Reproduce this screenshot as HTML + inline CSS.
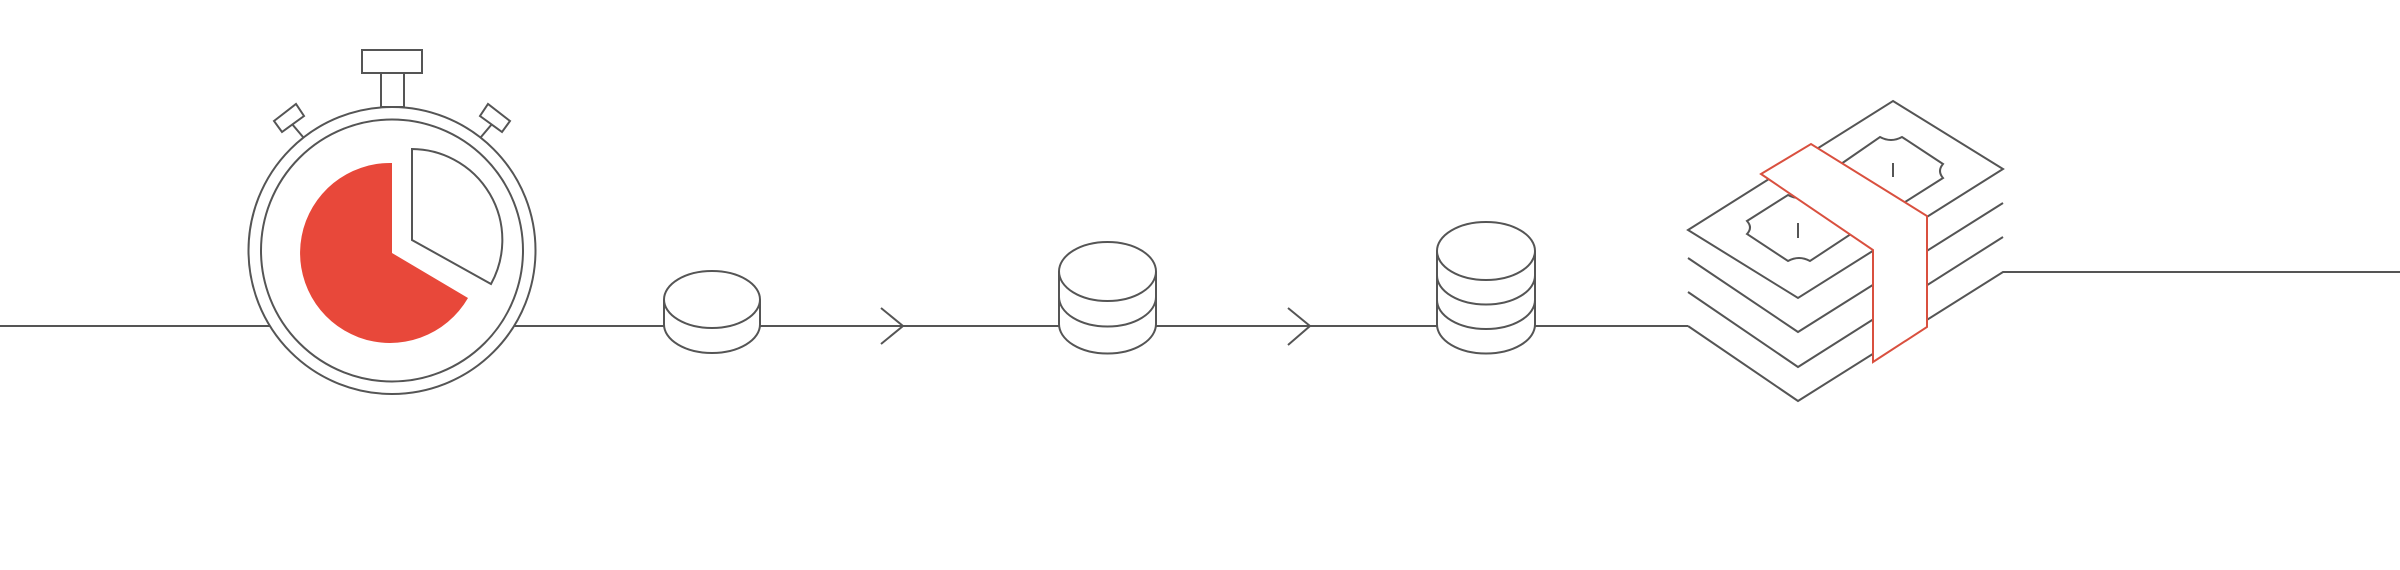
<!DOCTYPE html>
<html><head><meta charset="utf-8"><style>
html,body{margin:0;padding:0;background:#fff;}
svg{display:block;}
</style></head><body>
<svg width="2400" height="570" viewBox="0 0 2400 570" xmlns="http://www.w3.org/2000/svg">
<g fill="none" stroke="#555" stroke-width="2" stroke-linejoin="miter">
  <line x1="0" y1="326" x2="272" y2="326"/>
  <line x1="512" y1="326" x2="664" y2="326"/>
  <line x1="760" y1="326" x2="1059" y2="326"/>
  <line x1="1156" y1="326" x2="1437" y2="326"/>
  <line x1="1535" y1="326" x2="1688" y2="326"/>
  <polyline points="881,308 903,326 881,344"/>
  <polyline points="1288,308 1310,326 1288,345"/>

  <rect x="362" y="50" width="60" height="23"/>
  <rect x="381" y="73" width="23" height="34"/>
  <polygon points="274,121 296,104 304,116 282,132"/>
  <line x1="292" y1="124" x2="303" y2="137"/>
  <polygon points="510,121 488,104 480,116 502,132"/>
  <line x1="492" y1="124" x2="481" y2="137"/>
  <circle cx="392" cy="250.5" r="143.5" fill="#fff"/>
  <circle cx="392" cy="250.5" r="131"/>
  <path d="M412,149 A91,91 0 0 1 491,284 L412,240 Z"/>
</g>
<path d="M392,163 A90,90 0 1 0 468,298 L392,253 Z" fill="#e8483a"/>

<g fill="#fff" stroke="#555" stroke-width="2">
  <path d="M664,299.5 V324.5 A48,28.5 0 0 0 760,324.5 V299.5"/>
  <ellipse cx="712" cy="299.5" rx="48" ry="28.5"/>
  <path d="M1059,271.5 V324 A48.5,29.5 0 0 0 1156,324 V271.5"/>
  <path d="M1059,297 A48.5,29.5 0 0 0 1156,297" fill="none"/>
  <ellipse cx="1107.5" cy="271.5" rx="48.5" ry="29.5"/>
  <path d="M1437,251 V324.5 A49,29 0 0 0 1535,324.5 V251"/>
  <path d="M1437,300 A49,29 0 0 0 1535,300" fill="none"/>
  <path d="M1437,275.5 A49,29 0 0 0 1535,275.5" fill="none"/>
  <ellipse cx="1486" cy="251" rx="49" ry="29"/>
</g>

<g fill="none" stroke="#555" stroke-width="2" stroke-linejoin="miter">
  <polyline points="1688,326 1798,401 2003,272 2400,272"/>
  <polyline points="1688,292 1798,367 2003,237"/>
  <polyline points="1688,258 1798,332 2003,203"/>
  <polygon points="1893,101 2003,169 1798,298 1688,230" fill="#fff"/>
  <path d="M1747,221 Q1753,227.5 1747,234 L1788,261 Q1799,255 1810,261 L1851,234 Q1845,227.5 1851,221 L1810,195 Q1799,201 1788,195 Z"/>
  <path d="M1841,164 Q1847,171 1841,178 L1880,204 Q1891,198 1902,204 L1943,178 Q1937,171 1943,164 L1902,137 Q1891,143 1880,137 Z"/>
  <line x1="1798" y1="223" x2="1798" y2="238"/>
  <line x1="1893" y1="163" x2="1893" y2="177"/>
</g>
<polygon points="1761,174 1811,144 1927,216 1927,327 1873,362 1873,250" fill="#fff" stroke="#d9503f" stroke-width="2" stroke-linejoin="miter"/>
</svg>
</body></html>
